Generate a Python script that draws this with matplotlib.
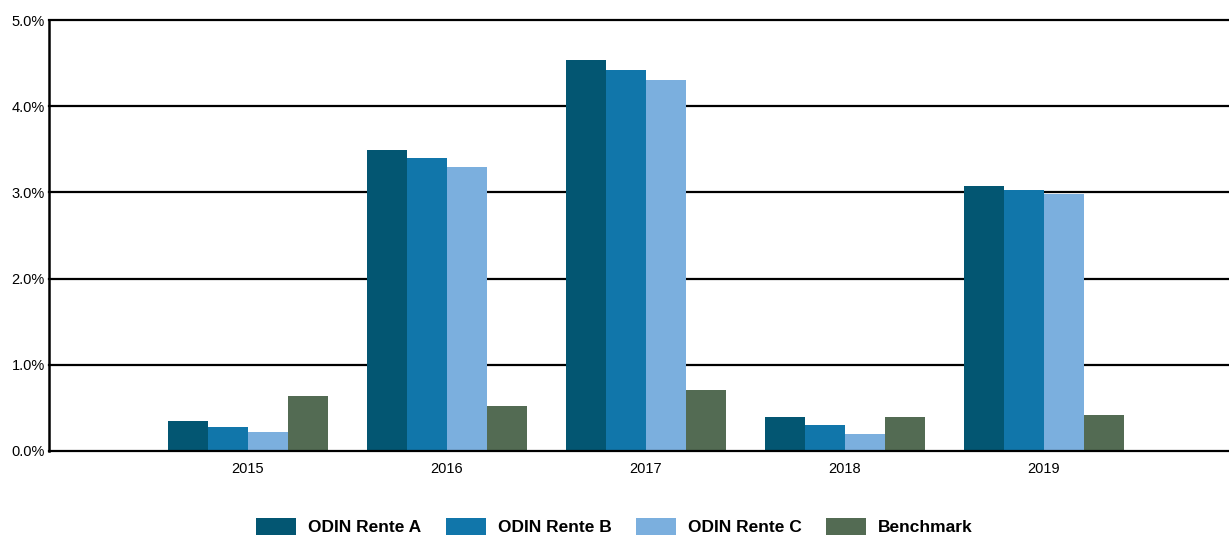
import matplotlib
matplotlib.use("Agg")
import matplotlib.pyplot as plt
import numpy as np

plt.rcParams["font.family"] = ["Liberation Sans", "DejaVu Sans"]

years = ["2015", "2016", "2017", "2018", "2019"]
series_names = ["ODIN Rente A", "ODIN Rente B", "ODIN Rente C", "Benchmark"]
rente_a = [0.35, 3.49, 4.54, 0.39, 3.07]
rente_b = [0.28, 3.40, 4.42, 0.30, 3.03]
rente_c = [0.22, 3.29, 4.30, 0.20, 2.98]
benchmark = [0.64, 0.52, 0.71, 0.39, 0.42]
colors = ["#035672", "#1176AA", "#7BAFDE", "#536B53"]

fig = plt.figure(figsize=(12.29, 5.35), dpi=100)
ax = fig.add_axes([49 / 1229, 1 - 451 / 535, 1 - 49 / 1229, (451 - 20) / 535])

x = np.arange(1, len(years) + 1)
width = 0.2
for i, (vals, name, col) in enumerate(zip([rente_a, rente_b, rente_c, benchmark], series_names, colors)):
    ax.bar(x + (i - 1.5) * width, vals, width=width, color=col, label=name, zorder=3)

ax.set_xlim(0, (1229 - 49) / 199)
ax.set_ylim(0, 5)
ticks = np.arange(0, 5.01, 1)
ax.set_yticks(ticks)
ax.set_yticklabels([f"{v:.1f}%" for v in ticks], fontsize=10.5)
ax.set_xticks(x)
ax.set_xticklabels(years, fontsize=10.5)
ax.tick_params(length=0)
ax.tick_params(axis="x", pad=8)
ax.tick_params(axis="y", pad=3)
for v in ticks:
    ax.axhline(v, color="black", lw=1.6, zorder=4 if v == 0 else 2, clip_on=False)
for s in ["top", "right", "bottom"]:
    ax.spines[s].set_visible(False)
ax.spines["left"].set_linewidth(1.8)
ax.spines["left"].set_zorder(5)

fig.legend(loc="lower center", ncol=4, frameon=False, bbox_to_anchor=(0.5, -0.03),
           prop={"weight": "bold", "size": 12.5},
           handlelength=2.3, handleheight=1.1, columnspacing=1.4, handletextpad=0.7)

fig.savefig("out.png", dpi=100, facecolor="white")
